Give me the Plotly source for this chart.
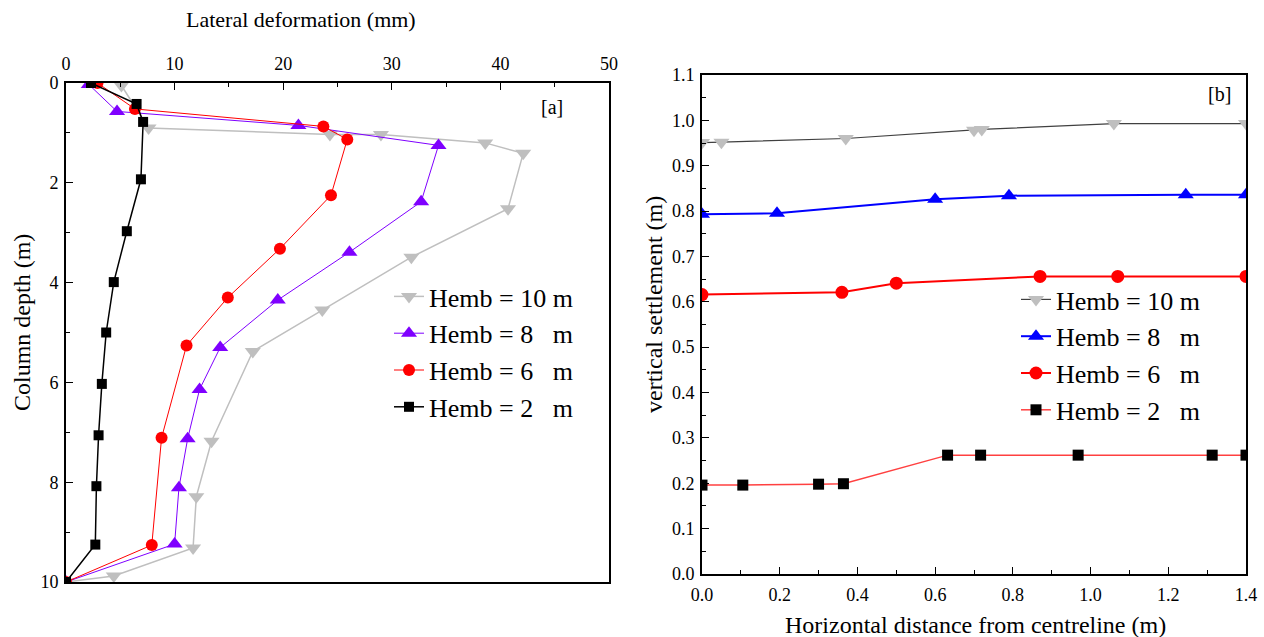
import plotly.graph_objects as go

W, H = 1264, 637
FONT = "Liberation Serif"

# ---- panel [a]: lateral deformation of the column with depth ----
lat_h10 = [5.1, 7.6, 24.3, 29.0, 38.6, 42.1, 40.7, 31.8, 23.6, 17.2, 13.4, 12.0, 11.7, 4.4, 0.0]
dep_h10 = [0.05, 0.9, 1.03, 1.03, 1.2, 1.41, 2.52, 3.49, 4.55, 5.38, 7.18, 8.29, 9.32, 9.88, 10.0]

lat_h8 = [2.1, 4.7, 21.4, 34.3, 32.7, 26.1, 19.5, 14.2, 12.3, 11.2, 10.4, 10.0, 0.0]
dep_h8 = [0.03, 0.57, 0.85, 1.25, 2.38, 3.39, 4.35, 5.3, 6.14, 7.13, 8.11, 9.24, 10.0]

lat_h6 = [2.9, 6.35, 23.7, 25.9, 24.4, 19.7, 14.9, 11.1, 8.8, 7.9, 0.0]
dep_h6 = [0.0, 0.52, 0.87, 1.13, 2.25, 3.32, 4.3, 5.26, 7.11, 9.26, 10.0]

lat_h2 = [2.3, 6.5, 7.1, 6.9, 5.6, 4.4, 3.7, 3.3, 3.0, 2.8, 2.7, 0.0]
dep_h2 = [0.0, 0.42, 0.78, 1.93, 2.97, 3.99, 5.0, 6.03, 7.06, 8.08, 9.25, 10.0]

# ---- panel [b]: vertical settlement across the section ----
dist_h10 = [0.0, 0.05, 0.37, 0.70, 0.72, 1.06, 1.40]
sett_h10 = [0.951, 0.952, 0.960, 0.978, 0.980, 0.993, 0.993]

dist_h8 = [0.0, 0.193, 0.60, 0.79, 1.245, 1.40]
sett_h8 = [0.793, 0.795, 0.826, 0.834, 0.836, 0.836]

dist_h6 = [0.0, 0.36, 0.50, 0.87, 1.07, 1.40]
sett_h6 = [0.616, 0.621, 0.641, 0.656, 0.656, 0.656]

dist_h2 = [0.0, 0.105, 0.30, 0.364, 0.632, 0.717, 0.968, 1.313, 1.40]
sett_h2 = [0.196, 0.196, 0.198, 0.199, 0.262, 0.262, 0.262, 0.262, 0.262]

names = ["Hemb = 10 m", "Hemb = 8   m", "Hemb = 6   m", "Hemb = 2   m"]


def px(x):
    return x / W


def py(y):
    return 1 - y / H


fig = go.Figure()

left_series = [
    (lat_h10, dep_h10, "#BFBFBF", "#BFBFBF", 1.5, "triangle-down", 14),
    (lat_h8, dep_h8, "#7F00FF", "#7F00FF", 1.0, "triangle-up", 14),
    (lat_h6, dep_h6, "#FF0000", "#FF0000", 1.0, "circle", 12),
    (lat_h2, dep_h2, "#000000", "#000000", 1.5, "square", 10),
]
for (x, y, lc, mc, lw, sym, ms), name in zip(left_series, names):
    fig.add_trace(go.Scatter(
        x=x, y=y, mode="lines+markers", name=name,
        line=dict(color=lc, width=lw),
        marker=dict(color=mc, symbol=sym, size=ms),
        xaxis="x", yaxis="y", legend="legend",
    ))

right_series = [
    (dist_h10, sett_h10, "#404040", "#BFBFBF", 1.2, "triangle-down", 14),
    (dist_h8, sett_h8, "#0000FF", "#0000FF", 2.0, "triangle-up", 14),
    (dist_h6, sett_h6, "#FF0000", "#FF0000", 2.0, "circle", 13),
    (dist_h2, sett_h2, "#FF4040", "#000000", 1.5, "square", 11),
]
for (x, y, lc, mc, lw, sym, ms), name in zip(right_series, names):
    fig.add_trace(go.Scatter(
        x=x, y=y, mode="lines+markers", name=name,
        line=dict(color=lc, width=lw),
        marker=dict(color=mc, symbol=sym, size=ms),
        xaxis="x2", yaxis="y2", legend="legend2",
    ))

tickfont = dict(family=FONT, size=18, color="#000000")
axis_common = dict(
    showgrid=False, zeroline=False, showline=True, linecolor="#000000",
    linewidth=1.6, mirror=True, ticks="inside", ticklen=7, tickwidth=1.3,
    tickcolor="#000000", tickfont=tickfont, automargin=False,
)
minor_common = dict(ticks="inside", ticklen=4, tickwidth=1.1, tickcolor="#000000", showgrid=False)

fig.update_layout(
    width=W, height=H, autosize=False,
    margin=dict(l=0, r=0, t=0, b=0, pad=0, autoexpand=False),
    paper_bgcolor="white", plot_bgcolor="white",
    font=dict(family=FONT, color="#000000"),
    xaxis=dict(
        axis_common, domain=[px(66), px(609)], anchor="y", side="top",
        range=[0, 50], dtick=10, minor=dict(minor_common, dtick=5),
        ticklabelstandoff=4,
    ),
    yaxis=dict(
        axis_common, domain=[py(582), py(83)], anchor="x",
        range=[10, 0], dtick=2, minor=dict(minor_common, dtick=1),
        ticklabelstandoff=2,
    ),
    xaxis2=dict(
        axis_common, domain=[px(702), px(1246)], anchor="y2",
        range=[0, 1.4], dtick=0.2, tickformat=".1f",
        minor=dict(minor_common, dtick=0.1), ticklabelstandoff=4,
    ),
    yaxis2=dict(
        axis_common, domain=[py(574), py(75)], anchor="x2",
        range=[0, 1.1], dtick=0.1, tickformat=".1f",
        minor=dict(minor_common, dtick=0.05), ticklabelstandoff=2,
    ),
    legend=dict(
        x=px(389), y=py(273), xanchor="left", yanchor="top",
        bgcolor="rgba(0,0,0,0)", borderwidth=0,
        font=dict(family=FONT, size=26, color="#000000"),
    ),
    legend2=dict(
        x=px(1016), y=py(276), xanchor="left", yanchor="top",
        bgcolor="rgba(0,0,0,0)", borderwidth=0,
        font=dict(family=FONT, size=26, color="#000000"),
    ),
)

title_font = dict(family=FONT, size=22, color="#000000")
annotations = [
    dict(text="Lateral deformation (mm)", x=px(301), y=py(20), font=title_font),
    dict(text="Column depth (m)", x=px(22), y=py(323), textangle=-90,
         font=dict(title_font, size=24)),
    dict(text="Horizontal distance from centreline (m)", x=px(975), y=py(625),
         font=dict(title_font, size=24)),
    dict(text="vertical settlement (m)", x=px(654), y=py(305), textangle=-90,
         font=dict(title_font, size=24)),
    dict(text="[a]", x=px(552), y=py(107), font=dict(title_font, size=20)),
    dict(text="[b]", x=px(1219), y=py(94), font=dict(title_font, size=20)),
]
for a in annotations:
    fig.add_annotation(xref="paper", yref="paper", showarrow=False,
                       xanchor="center", yanchor="middle", **a)

fig.write_html("out.html")
